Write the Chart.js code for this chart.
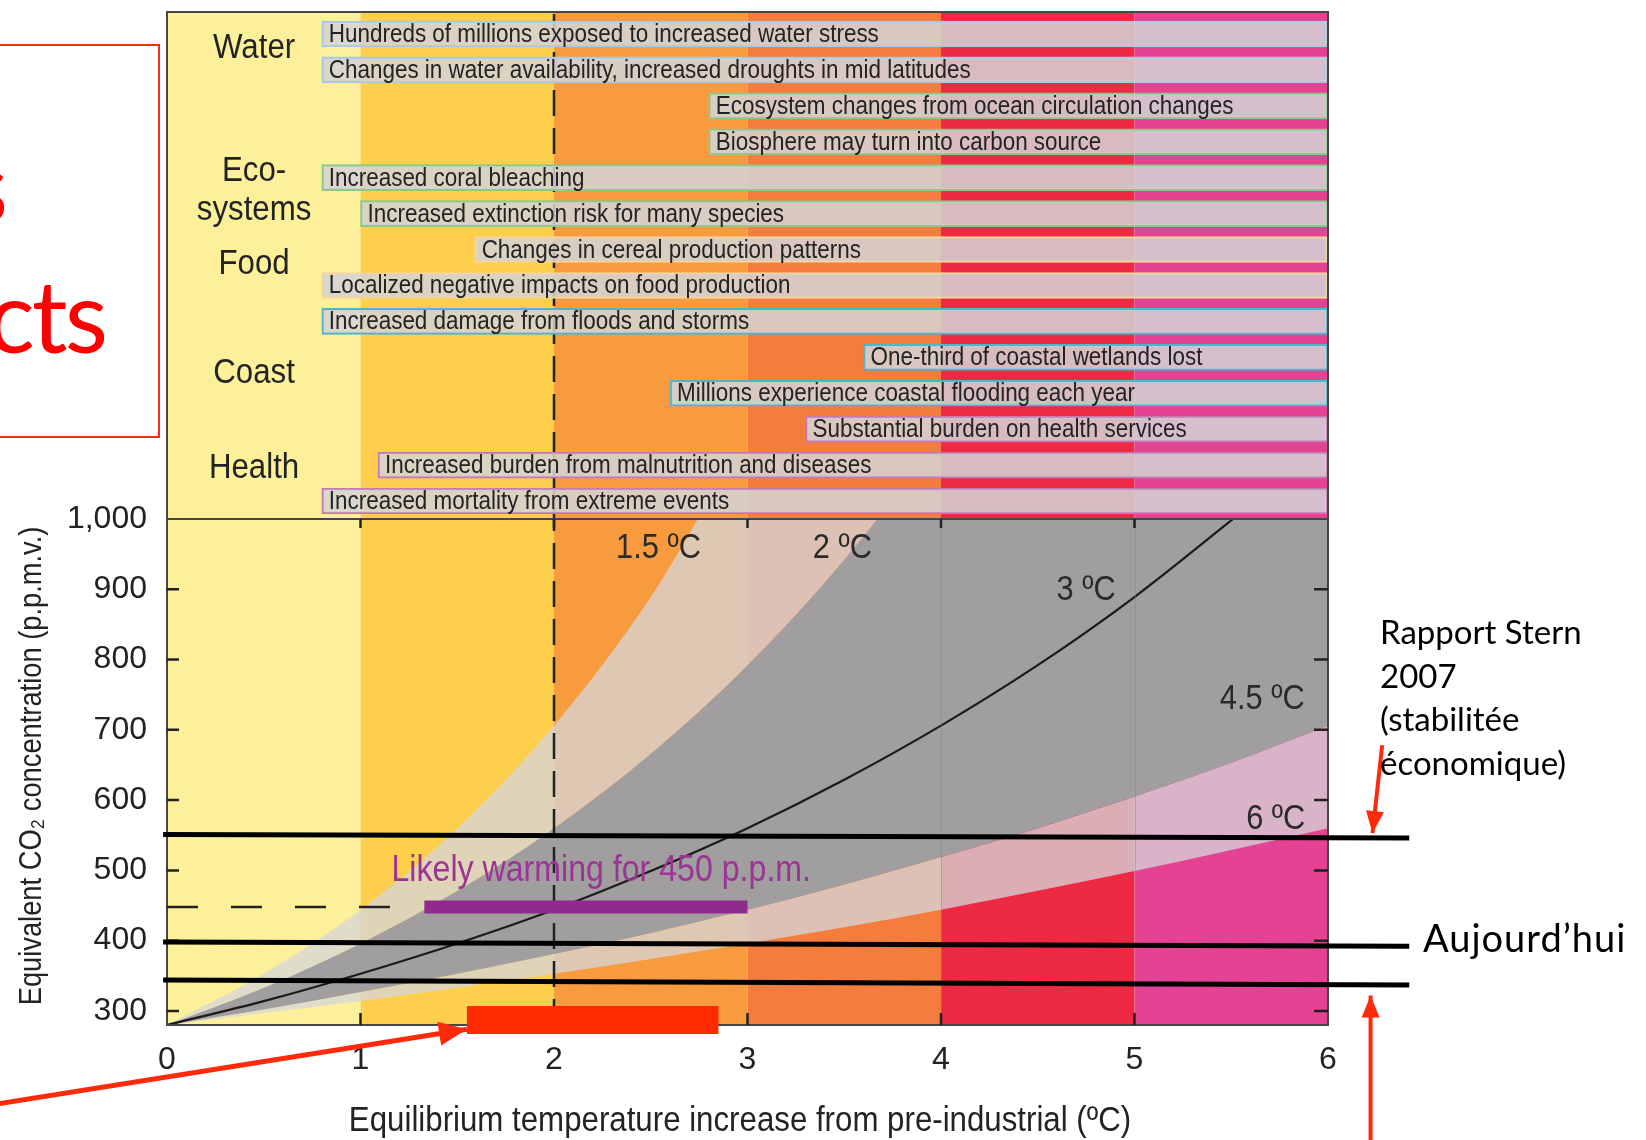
<!DOCTYPE html>
<html>
<head>
<meta charset="utf-8">
<title>Impacts and CO2 stabilisation</title>
<script src="https://cdn.jsdelivr.net/npm/chart.js@4.4.1/dist/chart.umd.min.js"></script>
<style>
  html, body { margin: 0; padding: 0; background: #fff; }
  body { width: 1646px; height: 1140px; overflow: hidden; position: relative; }
  #topWrap { position: absolute; left: 0; top: 0; width: 1646px; height: 525px; }
  #bottomWrap { position: absolute; left: 0; top: 479px; width: 1646px; height: 661px; }
  #redBox { position: absolute; left: -20px; top: 44px; width: 176px; height: 390px; border: 2px solid #ff2a12; }
  .bigRed { position: absolute; font-family: Lato, "Open Sans", sans-serif; font-size: 100px; line-height: 120px;
            color: #ff0000; white-space: nowrap; text-align: right; letter-spacing: -3px; }
  .note { position: absolute; font-family: Lato, "Open Sans", sans-serif; color: #000; white-space: nowrap; }
  #stern { left: 1380px; top: 610px; font-size: 33px; line-height: 43.5px; }
  #today { left: 1423px; top: 916px; font-size: 38px; line-height: 42px; letter-spacing: 1px; }
</style>
</head>
<body>
<div id="redBox"></div>
<div class="bigRed" style="left:-395px; width:400px; top:124px;">Les</div>
<div class="bigRed" style="left:-295px; width:400px; top:254px;">impacts</div>
<div id="topWrap"><canvas id="impactChart"></canvas></div>
<div id="bottomWrap"><canvas id="co2Chart"></canvas></div>
<div class="note" id="stern">Rapport Stern<br>2007<br>(stabilitée<br>économique)</div>
<div class="note" id="today">Aujourd’hui</div>
<script>
// ---------- data ----------
const impacts = [
  'Hundreds of millions exposed to increased water stress',
  'Changes in water availability, increased droughts in mid latitudes',
  'Ecosystem changes from ocean circulation changes',
  'Biosphere may turn into carbon source',
  'Increased coral bleaching',
  'Increased extinction risk for many species',
  'Changes in cereal production patterns',
  'Localized negative impacts on food production',
  'Increased damage from floods and storms',
  'One-third of coastal wetlands lost',
  'Millions experience coastal flooding each year',
  'Substantial burden on health services',
  'Increased burden from malnutrition and diseases',
  'Increased mortality from extreme events'
];
const impactSector = [0, 0, 1, 1, 1, 1, 2, 2, 3, 3, 3, 4, 4, 4];
const impactStart = [0.8, 0.8, 2.8, 2.8, 0.8, 1.0, 1.59, 0.8, 0.8, 3.6, 2.6, 3.3, 1.09, 0.8];
const impactEnd = 6;
const sectors = [['Water'], ['Eco-', 'systems'], ['Food'], ['Coast'], ['Health']];

const tempTicks = [0, 1, 2, 3, 4, 5, 6];
const co2Ticks = [300, 400, 500, 600, 700, 800, 900, 1000];

// stabilisation curves for each climate sensitivity (T in ºC, CO2e in ppm);
// the last values only keep the bands closed above the frame
const sensLabels = ['1.5 ºC', '2 ºC', '3 ºC', '4.5 ºC', '6 ºC'];
const t15 = [0, 0.5, 1, 1.5, 2, 2.5, 3, 3.2, 6];
const co2s15 = [280, 353, 444, 560, 706, 889, 1120, 1200, 1200];
const t2 = [0, 0.5, 1, 1.5, 2, 2.5, 3, 3.5, 4, 4.2, 6];
const co2s2 = [280, 333, 396, 471, 560, 666, 792, 942, 1120, 1200, 1200];
const t3 = [0, 0.5, 1, 1.5, 2, 2.5, 3, 3.5, 4, 4.5, 5, 5.5, 5.6];
const co2s3 = [280, 314, 353, 396, 444, 499, 560, 629, 706, 792, 889, 998, 1020];
const t45 = [0, 0.5, 1, 1.5, 2, 2.5, 3, 3.5, 4, 4.5, 5, 5.5, 6];
const co2s45 = [280, 302, 327, 353, 381, 411, 444, 480, 519, 560, 605, 653, 706];
const t6 = [0, 0.5, 1, 1.5, 2, 2.5, 3, 3.5, 4, 4.5, 5, 5.5, 6];
const co2s6 = [280, 297, 314, 333, 353, 374, 396, 419, 444, 471, 499, 529, 560];

const likely450T = [1.33, 3.0];      // purple bar
const likely450CO2 = 448;
const guide450T = [0, 1.17];         // dashed guide
const redBarT = [1.55, 2.85];
const redBarCO2 = 287;

// hand-drawn overlay lines (ppm at left / right end)
const overlayT = [-0.02, 6.42];
const sternCO2 = [551, 546];
const todayCO2 = [398, 392];
const lowCO2 = [344, 337];

// arrows, [T, ppm] from tail to head
const arrowStern = [[6.28, 678], [6.23, 553]];
const arrowLow = [[6.22, 112], [6.22, 322]];
const arrowBar = [[-0.87, 168], [1.55, 274]];

// ---------- styles ----------
const SANS = '"Liberation Sans", Arial, sans-serif';
const INK = '#232323';
const bandColors = ['#fdf09b', '#fdcf4c', '#f89b3e', '#f47c3c', '#ee2944', '#e44394'];
const sectorBorder = ['#a9c9e2', '#8dc78c', '#f7d49c', '#52b3c9', '#c47bb3'];
const LIGHT = 'rgba(214,214,216,0.77)';
const GREY = '#a09e9f';
const FRAME = '#464646';

function pts(xs, ys) { return xs.map((x, i) => ({ x: x, y: ys[i] })); }
function flat(xs, y) { return xs.map(x => ({ x: x, y: y })); }

function drawBands(ctx, xs, top, bottom) {
  for (let i = 0; i < bandColors.length; i++) {
    const a = xs.getPixelForValue(i), b = xs.getPixelForValue(i + 1);
    ctx.fillStyle = bandColors[i];
    ctx.fillRect(a, top, b - a, bottom - top);
  }
}

function dashedV(ctx, x, top, bottom) {
  ctx.save();
  ctx.strokeStyle = '#222';
  ctx.lineWidth = 2.5;
  ctx.setLineDash([26, 12]);
  ctx.beginPath();
  ctx.moveTo(x, top);
  ctx.lineTo(x, bottom);
  ctx.stroke();
  ctx.restore();
}

// condensed text (the figure uses a condensed grotesque)
function narrowText(ctx, txt, x, y, size, align, color, rot) {
  ctx.save();
  ctx.translate(x, y);
  if (rot) ctx.rotate(rot);
  ctx.scale(0.88, 1);
  ctx.font = size + 'px ' + SANS;
  ctx.fillStyle = color || INK;
  ctx.textAlign = align;
  ctx.textBaseline = 'middle';
  ctx.fillText(txt, 0, 0);
  ctx.restore();
}

// ---------- top panel: impacts ----------
const panelPlugin = {
  id: 'panel',
  beforeDatasetsDraw(chart) {
    const { ctx, chartArea: ca, scales: { x, y } } = chart;
    const top = ca.top - 4;
    drawBands(ctx, x, top, ca.bottom);
    dashedV(ctx, x.getPixelForValue(2), top + 2, ca.bottom);
    // sector names in the left column
    const y0 = y.getPixelForValue(0), step = y.getPixelForValue(1) - y0;
    const rows = [0.4, 4.36, 6.42, 9.45, 12.1];
    const cx = x.getPixelForValue(0.45);
    sectors.forEach((lines, i) => {
      const c = y0 + rows[i] * step;
      lines.forEach((t, j) => {
        narrowText(ctx, t, cx, c + (j - (lines.length - 1) / 2) * 39, 35.5, 'center');
      });
    });
  },
  afterDatasetsDraw(chart) {
    const { ctx, chartArea: ca } = chart;
    const meta = chart.getDatasetMeta(0);
    meta.data.forEach((bar, i) => {
      const left = Math.min(bar.x, bar.base);
      narrowText(ctx, impacts[i], left + 7, bar.y + 1, 25.5, 'left');
    });
    ctx.save();
    ctx.strokeStyle = FRAME;
    ctx.lineWidth = 2;
    ctx.beginPath();
    ctx.moveTo(ca.left, ca.bottom);
    ctx.lineTo(ca.left, ca.top - 4);
    ctx.lineTo(ca.right, ca.top - 4);
    ctx.lineTo(ca.right, ca.bottom);
    ctx.stroke();
    ctx.restore();
  }
};

new Chart(document.getElementById('impactChart'), {
  type: 'bar',
  data: {
    labels: impacts,
    datasets: [{
      data: impactStart.map(s => [s, impactEnd]),
      backgroundColor: 'rgba(212,212,214,0.86)',
      borderColor: impactSector.map(s => sectorBorder[s]),
      borderWidth: 2,
      borderSkipped: false,
      barThickness: 26
    }]
  },
  options: {
    indexAxis: 'y',
    responsive: true,
    maintainAspectRatio: false,
    animation: false,
    layout: { padding: { left: 167, right: 318, top: 16, bottom: 6 } },
    plugins: { legend: { display: false }, tooltip: { enabled: false } },
    scales: {
      x: { type: 'linear', min: 0, max: 6, display: false },
      y: { display: false }
    }
  },
  plugins: [panelPlugin]
});

// ---------- bottom panel: CO2e vs warming ----------
const framePlugin = {
  id: 'frame',
  beforeDatasetsDraw(chart) {
    const { ctx, chartArea: ca, scales: { x } } = chart;
    drawBands(ctx, x, ca.top, ca.bottom);
  },
  afterDatasetDraw(chart, args) {
    if (args.index !== 5) return;
    const { ctx, chartArea: ca, scales: { x, y } } = chart;
    ctx.save();
    // faint band seams that show through the grey
    ctx.strokeStyle = 'rgba(190,105,120,0.45)';
    ctx.lineWidth = 1;
    ctx.beginPath();
    [4, 5].forEach(t => {
      const px = Math.round(x.getPixelForValue(t)) + 0.5;
      ctx.moveTo(px, ca.top); ctx.lineTo(px, ca.bottom);
    });
    ctx.stroke();
    ctx.strokeStyle = FRAME;
    ctx.lineWidth = 2;
    ctx.strokeRect(ca.left, ca.top, ca.right - ca.left, ca.bottom - ca.top);
    ctx.strokeStyle = '#222';
    ctx.lineWidth = 2.5;
    ctx.beginPath();
    tempTicks.slice(1, -1).forEach(t => {
      const px = x.getPixelForValue(t);
      ctx.moveTo(px, ca.bottom); ctx.lineTo(px, ca.bottom - 12);
      ctx.moveTo(px, ca.top); ctx.lineTo(px, ca.top + 9);
    });
    co2Ticks.slice(0, -1).forEach(v => {
      const py = y.getPixelForValue(v);
      ctx.moveTo(ca.left, py); ctx.lineTo(ca.left + 12, py);
      ctx.moveTo(ca.right, py); ctx.lineTo(ca.right - 14, py);
    });
    ctx.stroke();
    ctx.restore();
    // curve names
    const anchors = [[2.54, 958], [3.49, 958], [4.75, 899], [5.66, 744], [5.73, 573]];
    sensLabels.forEach((t, i) => {
      narrowText(ctx, t, x.getPixelForValue(anchors[i][0]), y.getPixelForValue(anchors[i][1]), 35, 'center', '#2a2a2a');
    });
    narrowText(ctx, 'Likely warming for 450 p.p.m.', x.getPixelForValue(1.16), y.getPixelForValue(499), 36.5, 'left', '#9b3495');
  },
  afterDatasetsDraw(chart) {
    const { ctx, chartArea: ca, scales: { x, y } } = chart;
    const heads = [[arrowStern, 22, 9], [arrowLow, 22, 9], [arrowBar, 28, 12]];
    ctx.save();
    ctx.fillStyle = '#ff2a0a';
    heads.forEach(([a, len, half]) => {
      const x0 = x.getPixelForValue(a[0][0]), y0 = y.getPixelForValue(a[0][1]);
      const x1 = x.getPixelForValue(a[1][0]), y1 = y.getPixelForValue(a[1][1]);
      const ang = Math.atan2(y1 - y0, x1 - x0);
      const bx = x1 - len * Math.cos(ang), by = y1 - len * Math.sin(ang);
      ctx.beginPath();
      ctx.moveTo(x1, y1);
      ctx.lineTo(bx + half * Math.sin(ang), by - half * Math.cos(ang));
      ctx.lineTo(bx - half * Math.sin(ang), by + half * Math.cos(ang));
      ctx.closePath();
      ctx.fill();
    });
    ctx.restore();
    // axis titles
    narrowText(ctx, 'Equilibrium temperature increase from pre-industrial (ºC)', 740, chart.height - 19, 35.5, 'center');
    narrowText(ctx, 'Equivalent CO₂ concentration (p.p.m.v.)', 32, (ca.top + ca.bottom) / 2 - 6, 31, 'center', INK, -Math.PI / 2);
  }
};

const curve = (data, extra) => Object.assign({
  data: data, borderWidth: 0, pointRadius: 0, fill: false,
  cubicInterpolationMode: 'monotone'
}, extra);
const straight = (data, color, width, order, extra) => Object.assign({
  data: data, borderColor: color, borderWidth: width, pointRadius: 0, fill: false,
  borderCapStyle: 'butt', clip: false, order: order
}, extra || {});

new Chart(document.getElementById('co2Chart'), {
  type: 'line',
  data: {
    datasets: [
      curve(pts(t15, co2s15), { fill: { target: 1 }, backgroundColor: LIGHT, order: 97 }),
      curve(pts(t2, co2s2), { fill: { target: 3 }, backgroundColor: GREY, order: 98 }),
      curve(pts(t3, co2s3), { borderColor: '#1b1b1b', borderWidth: 2.2, order: 90 }),
      curve(pts(t45, co2s45), { fill: { target: 4 }, backgroundColor: LIGHT, order: 99 }),
      curve(pts(t6, co2s6), { order: 100 }),
      straight([{ x: 2, y: 280 }, { x: 2, y: 1000 }], '#222', 2.5, 80, { borderDash: [26, 12], clip: true }),
      straight(flat(guide450T, likely450CO2), '#222', 2.5, 79, { borderDash: [31, 33] }),
      straight(flat(likely450T, likely450CO2), '#8e2b8c', 13, 70),
      straight(flat(redBarT, redBarCO2), '#ff2a00', 28, 69),
      straight(pts(overlayT, sternCO2), '#000', 5, 60),
      straight(pts(overlayT, todayCO2), '#000', 5, 60),
      straight(pts(overlayT, lowCO2), '#000', 5, 60),
      straight(arrowStern.map(p => ({ x: p[0], y: p[1] })), '#ff2a0a', 4, 50),
      straight(arrowLow.map(p => ({ x: p[0], y: p[1] })), '#ff2a0a', 4, 50),
      straight(arrowBar.map(p => ({ x: p[0], y: p[1] })), '#ff2a0a', 5, 50)
    ]
  },
  options: {
    responsive: true,
    maintainAspectRatio: false,
    animation: false,
    layout: { padding: { left: 0, right: 318, top: 40, bottom: 0 } },
    plugins: { legend: { display: false }, tooltip: { enabled: false } },
    scales: {
      x: {
        type: 'linear', min: 0, max: 6,
        afterBuildTicks: s => { s.ticks = tempTicks.map(v => ({ value: v })); },
        afterFit: s => { s.height = 115; },
        grid: { display: false, drawTicks: false },
        border: { display: false },
        ticks: { padding: 16, color: INK, font: { family: SANS, size: 32 } },
        title: { display: false, text: 'Equilibrium temperature increase from pre-industrial (ºC)' }
      },
      y: {
        type: 'linear', min: 280, max: 1000,
        afterBuildTicks: s => { s.ticks = co2Ticks.map(v => ({ value: v })); },
        afterFit: s => { s.width = 167; },
        grid: { display: false, drawTicks: false },
        border: { display: false },
        ticks: { padding: 20, color: INK, font: { family: SANS, size: 32 },
                 callback: v => v.toLocaleString('en-US') },
        title: { display: false, text: 'Equivalent CO₂ concentration (p.p.m.v.)' }
      }
    }
  },
  plugins: [framePlugin]
});
</script>
</body>
</html>
